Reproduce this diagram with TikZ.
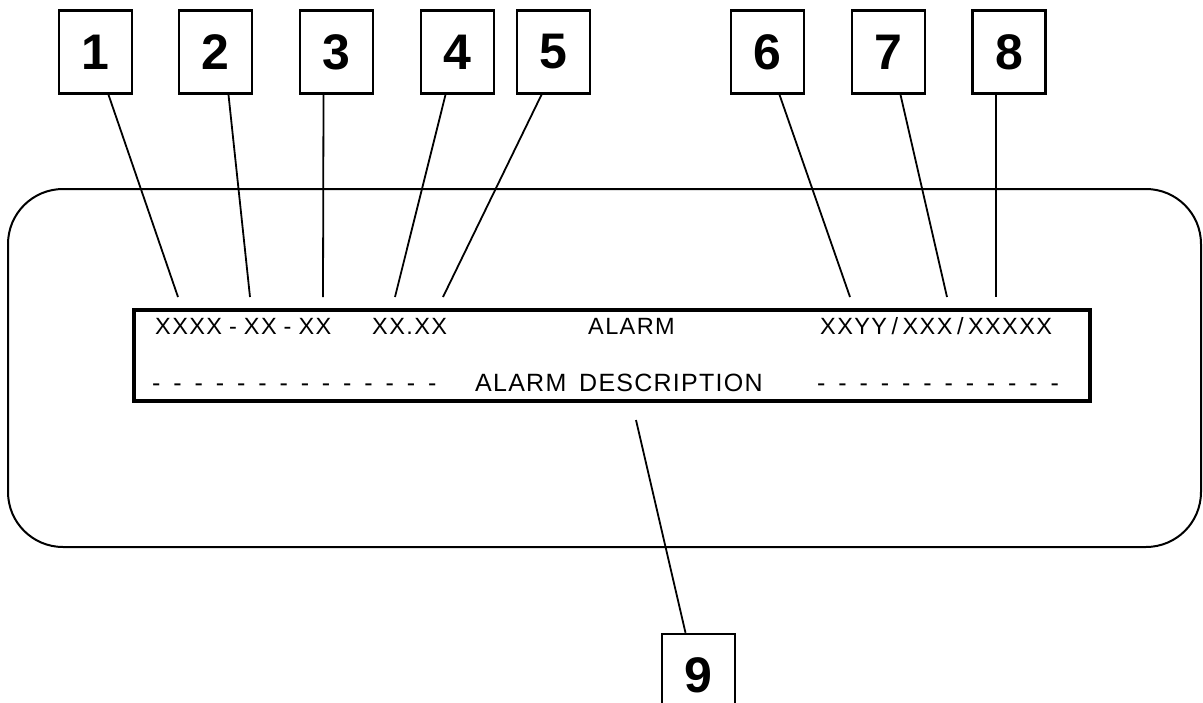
\documentclass[tikz,border=0pt]{standalone}
\usepackage{fontspec}
\setmainfont{Liberation Sans}
\usetikzlibrary{positioning,calc}

\newcommand\widespace{\spaceskip=12.9pt\relax}

\tikzset{
  numbox/.style={draw, line width=2.5pt, minimum width=73pt, minimum height=83pt, inner sep=0pt,
    font=\fontsize{50}{60}\selectfont\bfseries},
  lead/.style={line width=1.8pt},
  rowone/.style={anchor=base west, inner sep=0pt,
    font=\fontsize{23.5}{28}\selectfont\addfontfeature{LetterSpace=6}},
  rowtwo/.style={anchor=base west, inner sep=0pt,
    font={\fontsize{25}{30}\selectfont\addfontfeature{LetterSpace=5}\widespace}}
}

\begin{document}
\begin{tikzpicture}[x=1pt, y=-1pt]
        \useasboundingbox (0,0) rectangle (1203,702);
        \clip (0,0) rectangle (1203,702);

        % panel and display window
        \draw[line width=2pt, rounded corners=55pt] (8,189) rectangle (1201,547);
        \node[draw, line width=4.5pt, minimum width=956pt, minimum height=91pt, inner sep=0pt] (screen) at (612,355.5) {};

        % display text
        \node[rowone] (date) at (155,334.5) {XXXX\kern7pt-\kern7pt XX\kern7pt-\kern7pt XX};
        \node[rowone] (time) at (372,334.5) {XX.XX};
        \node[rowone] (alarm) at (588,334.5) {ALARM};
        \node[rowone] (code) at (820,334.5) {XXYY\kern4.5pt/\kern4.5pt XXX\kern4.5pt/\kern4.5pt XXXXX};
        \node[rowtwo] (dashl) at (152,391) {- - - - - - - - - - - - - -};
        \node[rowtwo] (descr) at (475,391) {ALARM DESCRIPTION};
        \node[rowtwo] (dashr) at (817,391) {- - - - - - - - - - - -};

        % numbered callouts
        \node[numbox] (n1) at (95.5,52) {1};
        \node[numbox] (n2) at (215.5,52) {2};
        \node[numbox] (n3) at (336.5,52) {3};
        \node[numbox] (n4) at (457.5,52) {4};
        \node[numbox] (n5) at (553.5,52) {5};
        \node[numbox] (n6) at (767.5,52) {6};
        \node[numbox] (n7) at (888.5,52) {7};
        \node[numbox] (n8) at (1009,52) {8};
        \node[numbox] (n9) at (698.5,675.5) {9};

        \coordinate (t1) at (178,297);
        \coordinate (t2) at (250,297);
        \coordinate (t3) at (323,297);
        \coordinate (t4) at (395,297);
        \coordinate (t5) at (443,297);
        \coordinate (t6) at (850,297);
        \coordinate (t7) at (947,297);
        \coordinate (t8) at (996,297);
        \coordinate (t9) at (636,420);

        \draw[lead] ([xshift=13]n1.south) -- (t1);
        \draw[lead] ([xshift=13]n2.south) -- (t2);
        \draw[lead] ([xshift=-13]n3.south) -- (t3);
        \draw[lead] ([xshift=-12]n4.south) -- (t4);
        \draw[lead] ([xshift=-12]n5.south) -- (t5);
        \draw[lead] ([xshift=12]n6.south) -- (t6);
        \draw[lead] ([xshift=12]n7.south) -- (t7);
        \draw[lead] ([xshift=-13]n8.south) -- (t8);
        \draw[lead] (t9) -- ([xshift=-13]n9.north);
    \end{tikzpicture}
\end{document}
